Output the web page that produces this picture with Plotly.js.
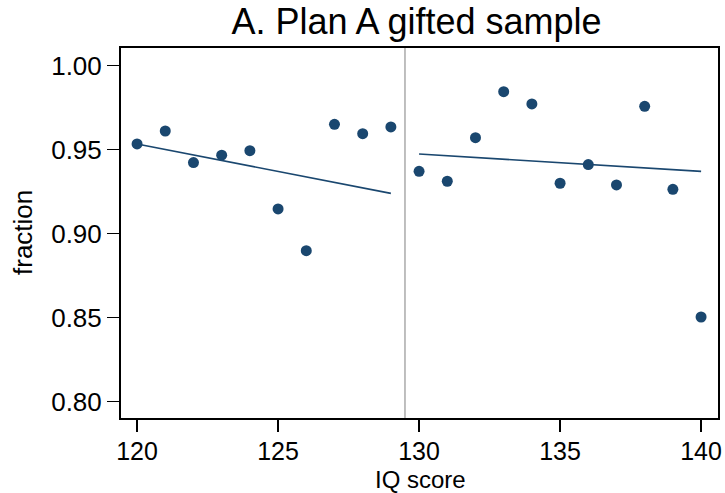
<!DOCTYPE html>
<html>
<head>
<meta charset="utf-8">
<script src="https://cdn.plot.ly/plotly-3.0.1.min.js"></script>
<style>html,body{margin:0;padding:0;background:#fff;}#chart{width:725px;height:493px;}</style>
</head>
<body>
<div id="chart"></div>
<script>
// Data
const iqLeft = [120, 121, 122, 123, 124, 125, 126, 127, 128, 129];
const fracLeft = [0.9534, 0.9611, 0.9423, 0.9467, 0.9494, 0.9147, 0.8899, 0.9651, 0.9595, 0.9635];
const iqRight = [130, 131, 132, 133, 134, 135, 136, 137, 138, 139, 140];
const fracRight = [0.9371, 0.9312, 0.9571, 0.9845, 0.9772, 0.9300, 0.9411, 0.9290, 0.9758, 0.9264, 0.8504];
const fitLeftX = [120, 129];
const fitLeftY = [0.9534, 0.9240];
const fitRightX = [130, 140];
const fitRightY = [0.9474, 0.9371];
const cutoff = [129.5];
const xTicks = [120, 125, 130, 135, 140];
const yTicks = [0.80, 0.85, 0.90, 0.95, 1.00];

const navy = '#1a476f';
const font = '"Liberation Sans", Arial, Helvetica, sans-serif';

const traces = [
  {x: iqLeft, y: fracLeft, type: 'scatter', mode: 'markers',
   marker: {color: navy, size: 11}, showlegend: false, cliponaxis: false},
  {x: iqRight, y: fracRight, type: 'scatter', mode: 'markers',
   marker: {color: navy, size: 11}, showlegend: false, cliponaxis: false},
  {x: fitLeftX, y: fitLeftY, type: 'scatter', mode: 'lines',
   line: {color: navy, width: 1.6}, showlegend: false},
  {x: fitRightX, y: fitRightY, type: 'scatter', mode: 'lines',
   line: {color: navy, width: 1.6}, showlegend: false}
];

const layout = {
  width: 725, height: 493,
  margin: {l: 121, r: 7, t: 48, b: 75},
  paper_bgcolor: '#fff', plot_bgcolor: '#fff',
  font: {family: font, color: '#000'},
  title: {text: 'A. Plan A gifted sample', font: {size: 36, color: '#000', family: font},
          x: 0.5745, xanchor: 'center', y: 0.957, yanchor: 'middle', yref: 'container'},
  xaxis: {range: [119.43, 140.6], tickvals: xTicks, ticktext: xTicks.map(String),
          ticks: 'outside', ticklen: 12, tickwidth: 1.5, tickcolor: '#000',
          ticklabelstandoff: -2,
          showline: true, linecolor: '#000', linewidth: 2, mirror: true,
          showgrid: false, zeroline: false, tickfont: {size: 25, color: '#000'}},
  yaxis: {range: [0.7903, 1.0105], tickvals: yTicks, ticktext: yTicks.map(v => v.toFixed(2)),
          ticks: 'outside', ticklen: 12, tickwidth: 1.5, tickcolor: '#000',
          showline: true, linecolor: '#000', linewidth: 2, mirror: true,
          showgrid: false, zeroline: false, tickfont: {size: 26, color: '#000'}},
  shapes: [{type: 'line', xref: 'x', yref: 'paper', x0: cutoff[0], x1: cutoff[0], y0: 0, y1: 1,
            line: {color: '#aaaaaa', width: 1.5}, layer: 'below'}],
  annotations: [
    {text: 'IQ score', xref: 'paper', yref: 'paper', x: 0.5025, y: (418 - 479) / 370,
     xanchor: 'center', yanchor: 'middle', showarrow: false,
     font: {size: 24, color: '#000'}},
    {text: 'fraction', xref: 'paper', yref: 'paper', x: (23 - 121) / 597, y: 0.5,
     xanchor: 'center', yanchor: 'middle', textangle: -90, showarrow: false,
     font: {size: 26, color: '#000'}}
  ]
};

Plotly.newPlot('chart', traces, layout, {displayModeBar: false, staticPlot: true});
</script>
</body>
</html>
